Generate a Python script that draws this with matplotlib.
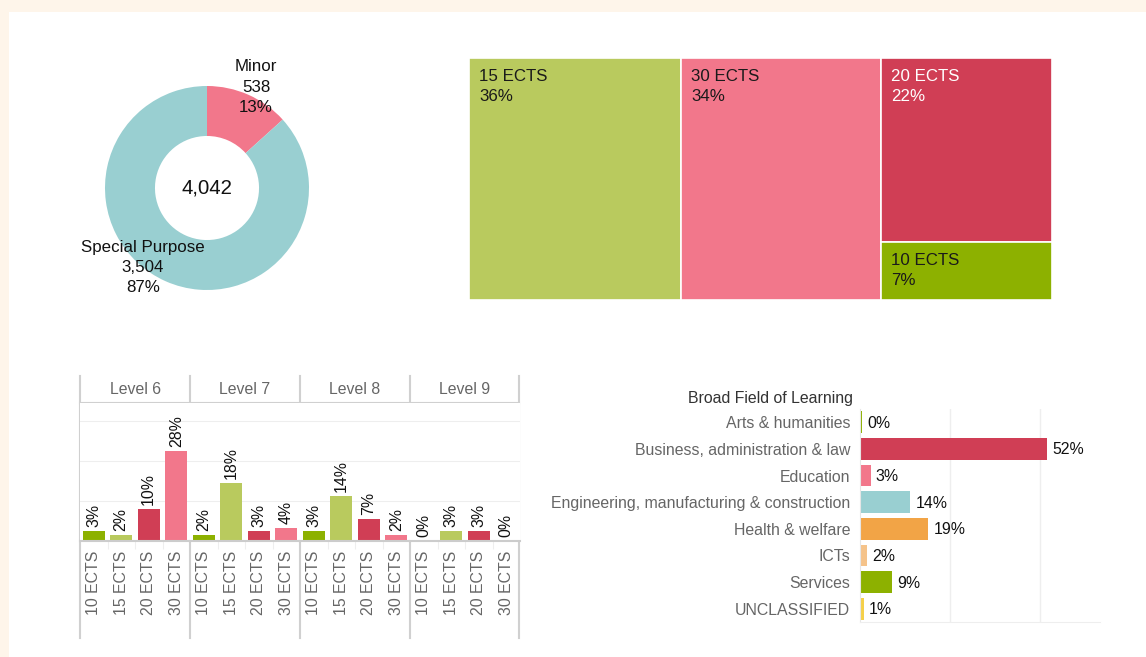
import matplotlib
matplotlib.use("Agg")
import matplotlib.pyplot as plt
from matplotlib.patches import Rectangle
import numpy as np

plt.rcParams['font.family'] = ['Liberation Sans', 'DejaVu Sans']

W, H = 1146, 657

# ---------------- data ----------------
donut_labels = ["Minor", "Special Purpose"]
donut_values = [538, 3504]
donut_colors = ["#f2778b", "#99cfd1"]

tree_labels = ["15 ECTS", "30 ECTS", "20 ECTS", "10 ECTS"]
tree_values = [36, 34, 22, 7]
tree_colors = ["#b9ca5e", "#f2778b", "#d03e55", "#8db100"]
tree_text_colors = ["#1a1a1a", "#1a1a1a", "#ffffff", "#1a1a1a"]
tree_columns = [[0], [1], [2, 3]]

levels = ["Level 6", "Level 7", "Level 8", "Level 9"]
ects = ["10 ECTS", "15 ECTS", "20 ECTS", "30 ECTS"]
ects_colors = ["#8db100", "#b9ca5e", "#d03e55", "#f2778b"]
level_values = [
    [3, 2, 10, 28],
    [2, 18, 3, 4],
    [3, 14, 7, 2],
    [0, 3, 3, 0],
]

fields = ["Arts & humanities", "Business, administration & law", "Education",
          "Engineering, manufacturing & construction", "Health & welfare",
          "ICTs", "Services", "UNCLASSIFIED"]
field_values = [0, 52, 3, 14, 19, 2, 9, 1]
field_colors = ["#8db100", "#d03e55", "#f2778b", "#99cfd1", "#f2a446",
                "#f5c38a", "#8db100", "#f5d04a"]


def box(x0, y0, x1, y1):
    return [x0 / W, 1 - y1 / H, (x1 - x0) / W, (y1 - y0) / H]


fig = plt.figure(figsize=(W / 100, H / 100), dpi=100)
fig.patch.set_facecolor("#fef5ea")
bg = fig.add_axes([0, 0, 1, 1])
bg.set_xlim(0, W)
bg.set_ylim(H, 0)
bg.axis("off")
bg.add_patch(Rectangle((9, 12), W, H, facecolor="white", edgecolor="none"))

FS = 11.4

# ---------------- donut ----------------
axd = fig.add_axes(box(54, 35, 360, 341))
axd.pie(donut_values, colors=donut_colors, startangle=90, counterclock=False,
        radius=1, wedgeprops=dict(width=0.49, edgecolor="none"))
axd.set_xlim(-1.5, 1.5)
axd.set_ylim(-1.5, 1.5)
axd.axis("off")
total = sum(donut_values)
axd.text(0, 0, f"{total:,}", ha="center", va="center", fontsize=14.7, color="#111")
label_pos = [(0.48, 0.99), (-0.63, -0.78)]
for lab, v, (lx, ly) in zip(donut_labels, donut_values, label_pos):
    axd.text(lx, ly, f"{lab}\n{v:,}\n{round(100 * v / total)}%", ha="center",
             va="center", fontsize=12.2, color="#111", linespacing=1.42)

# ---------------- treemap ----------------
axt = fig.add_axes(box(469, 58, 1052, 300))
axt.set_xlim(0, 1)
axt.set_ylim(1, 0)
axt.axis("off")
tot = sum(tree_values)
x = 0.0
for col in tree_columns:
    cs = sum(tree_values[i] for i in col)
    w = cs / tot
    y = 0.0
    for i in col:
        h = tree_values[i] / cs
        axt.add_patch(Rectangle((x, y), w, h, facecolor=tree_colors[i],
                                edgecolor="white", linewidth=1.2))
        axt.annotate(f"{tree_labels[i]}\n{tree_values[i]}%", (x, y),
                     xytext=(10, -11), textcoords="offset pixels",
                     ha="left", va="top", fontsize=12.2,
                     color=tree_text_colors[i], linespacing=1.45)
        y += h
    x += w

# ---------------- faceted bars ----------------
ymax = 138 / 3.2
for li, lev in enumerate(levels):
    x0 = 80 + 110 * li
    ax = fig.add_axes(box(x0, 403, x0 + 110, 541))
    ax.set_xlim(-0.5, 3.5)
    ax.set_ylim(0, ymax)
    for g in (12.5, 25, 37.5):
        ax.axhline(g, color="#eeeeee", linewidth=0.8, zorder=0)
    vals = level_values[li]
    xs = np.arange(len(ects))
    ax.bar(xs, vals, width=0.8, color=ects_colors, zorder=2)
    for xi, v in zip(xs, vals):
        ax.annotate(f"{v}%", (xi, v), xytext=(0, 4), textcoords="offset pixels",
                    rotation=90, ha="center", va="bottom", fontsize=FS, color="#111")
    for s in ("top", "right", "left"):
        ax.spines[s].set_visible(False)
    ax.spines["bottom"].set_color("#cccccc")
    ax.spines["bottom"].set_linewidth(1.5)
    ax.set_yticks([])
    ax.set_xticks(xs)
    ax.set_xticklabels(ects, rotation=90, fontsize=FS, color="#666666")
    ax.tick_params(axis="x", length=0, pad=7)
    ax.set_xticks([0.5, 1.5, 2.5], minor=True)
    ax.tick_params(axis="x", which="minor", length=6, color="#eeeeee", width=0.8)
    bg.text(x0 + 55, 390, lev, ha="center", va="center", fontsize=FS, color="#666666")

for xb in (80, 190, 300, 410, 519):
    bg.plot([xb, xb], [376, 638], color="#d0d0d0", linewidth=1.5)
bg.plot([80, 519], [403, 403], color="#d0d0d0", linewidth=1.5)

# ---------------- horizontal bars ----------------
axh = fig.add_axes(box(860, 409, 1100, 622))
axh.set_xlim(0, 240 / 3.6)
axh.set_ylim(len(fields) - 0.5, -0.5)
ys = np.arange(len(fields))
disp = [max(v, 0.55) for v in field_values]
axh.barh(ys, disp, height=0.82, color=field_colors, zorder=2)
for g in (25, 50):
    axh.axvline(g, color="#eeeeee", linewidth=1, zorder=0)
for yi, v, d in zip(ys, field_values, disp):
    axh.annotate(f"{v}%", (d, yi), xytext=(5, -1), textcoords="offset pixels",
                 ha="left", va="center", fontsize=FS, color="#111")
for s in ("top", "right"):
    axh.spines[s].set_visible(False)
axh.spines["left"].set_color("#e6e6e6")
axh.spines["bottom"].set_color("#eeeeee")
axh.set_xticks([])
axh.set_yticks(ys)
axh.set_yticklabels(fields, fontsize=FS, color="#666666")
axh.tick_params(axis="y", length=0, pad=7)
bg.text(853, 399, "Broad Field of Learning", ha="right", va="center",
        fontsize=FS, color="#333333")

fig.savefig("out.png", dpi=100, facecolor=fig.get_facecolor())
